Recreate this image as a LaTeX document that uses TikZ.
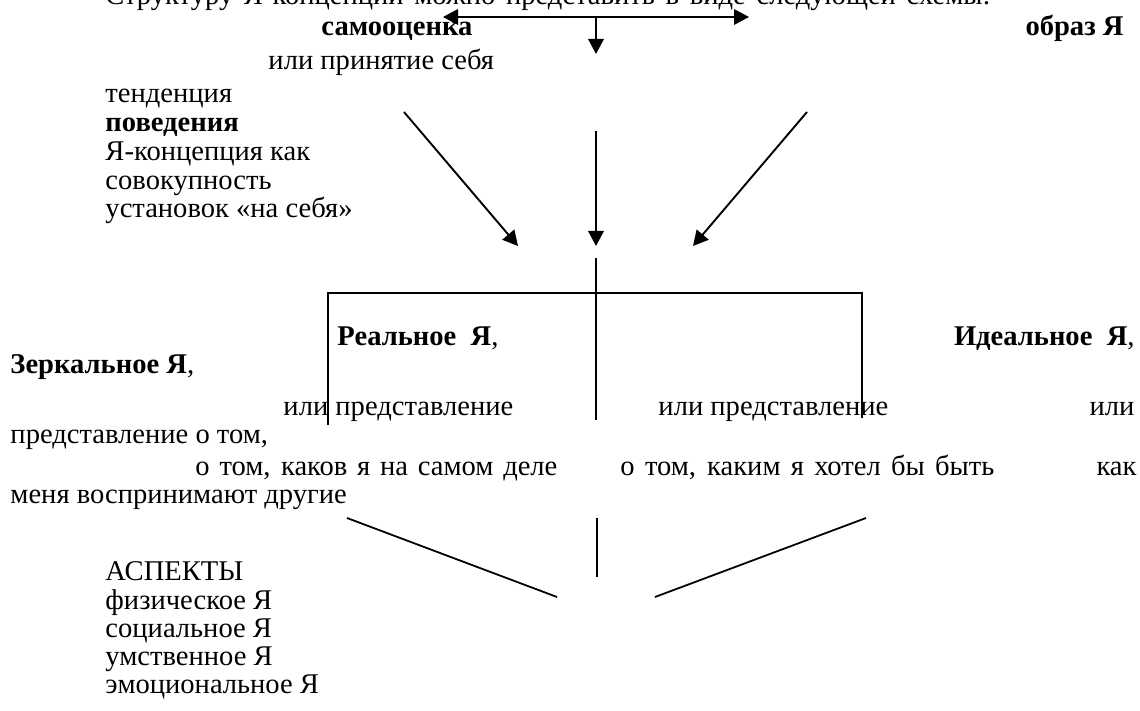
\documentclass[tikz,border=0pt]{standalone}
\usepackage{fontspec}
\setmainfont{Liberation Serif}
\usetikzlibrary{arrows.meta}

\begin{document}
\begin{tikzpicture}[x=0.42pt,y=-0.42pt,
  every node/.style={inner sep=0pt,anchor=base west,font=\fontsize{12}{14}\selectfont},
  arrow/.style={-{Triangle[length=6.3pt,width=6.5pt]},line width=.8pt},
  twoway/.style={{Triangle[length=6.3pt,width=6.5pt]}-{Triangle[length=6.3pt,width=6.5pt]},line width=.8pt},
  link/.style={line width=.75pt}]
\useasboundingbox (0,0) rectangle (1140,711);

% heading line, cut off by the top edge of the page
\node (intro) at (105,5) {\makebox[371.7pt][s]{Структуру Я-концепции можно представить в виде следующей схемы:}};

\node (esteem) at (321,36) {\textbf{самооценка}};
\node[anchor=base east] (selfimage) at (1124,36) {\textbf{образ Я}};
\node (accept) at (268,70) {или принятие себя};
\foreach \txt [count=\i] in {тенденция,\textbf{поведения},Я-концепция как,совокупность,установок «на себя»}
  \node (trend\i) at (105,{103+28.7*(\i-1)}) {\txt};

% the three modalities of the self
\node (real) at (337,346) {\textbf{Реальное\ \ Я},};
\node[anchor=base east] (ideal) at (1135,346) {\textbf{Идеальное\ \ Я},};
\node (mirror) at (10,374) {\textbf{Зеркальное Я},};
\node (realor) at (283,416) {или представление};
\node (idealor) at (658,416) {или представление};
\node[anchor=base east] (mirroror) at (1135,416) {или};
\node (mirrorview) at (10,444) {представление о том,};
\node (realtext) at (195,476) {\makebox[152pt][s]{о том, каков я на самом деле}};
\node (idealtext) at (620,476) {\makebox[157pt][s]{о том, каким я хотел бы быть}};
\node[anchor=base east] (mirroras) at (1137,476) {как};
\node (mirrortext) at (10,504) {меня воспринимают другие};

\foreach \txt [count=\i] in {АСПЕКТЫ,физическое Я,социальное Я,умственное Я,эмоциональное Я}
  \node (aspect\i) at (105,{581+28*(\i-1)}) {\txt};

% top fork
\coordinate (esteemtip) at (443,17);
\coordinate (imagetip) at (749,17);
\coordinate (fork) at (596,17);
\coordinate (forktip) at (596,54);
\draw[twoway] (esteemtip) -- (imagetip);
\draw[arrow] (fork) -- (forktip);

% converging arrows
\coordinate (lefttail) at (404,112);
\coordinate (lefthead) at (518,246);
\coordinate (midtail) at (596,131);
\coordinate (midhead) at (596,246);
\coordinate (righttail) at (807,112);
\coordinate (righthead) at (693,246);
\draw[arrow] (lefttail) -- (lefthead);
\draw[arrow] (midtail) -- (midhead);
\draw[arrow] (righttail) -- (righthead);

% bracket over the modalities
\coordinate (stem) at (596,258);
\coordinate (stemfoot) at (596,420);
\coordinate (realtop) at (328,293);
\coordinate (realfoot) at (328,425);
\coordinate (idealtop) at (862,293);
\coordinate (idealfoot) at (862,418);
\draw[link] (stem) -- (stemfoot);
\draw[link] (realfoot) -- (realtop) -- (idealtop) -- (idealfoot);

% lines down to the aspects
\coordinate (mirrorfrom) at (347,518);
\coordinate (leftjoin) at (557,597);
\coordinate (centerfrom) at (597,518);
\coordinate (centerjoin) at (597,577);
\coordinate (idealfrom) at (866,518);
\coordinate (rightjoin) at (655,597);
\draw[link] (mirrorfrom) -- (leftjoin);
\draw[link] (centerfrom) -- (centerjoin);
\draw[link] (idealfrom) -- (rightjoin);
\end{tikzpicture}
\end{document}
